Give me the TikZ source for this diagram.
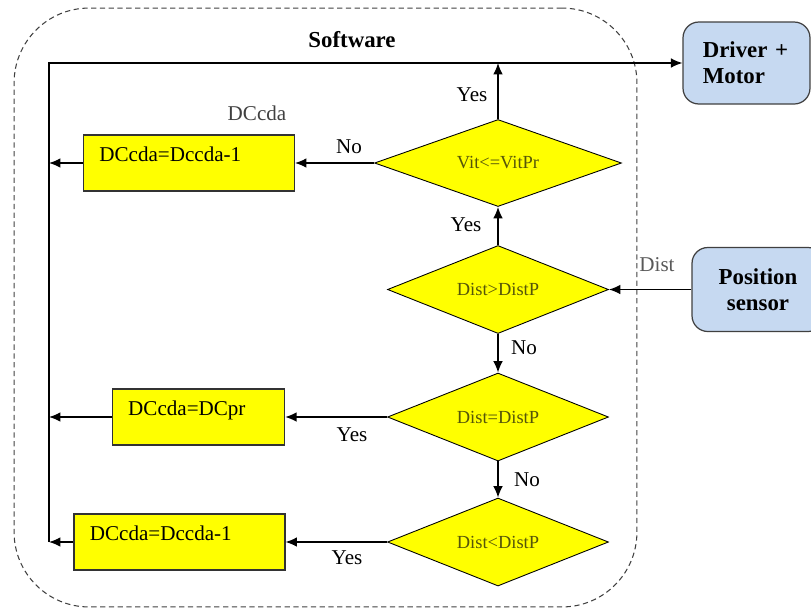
\documentclass[tikz,border=0pt]{standalone}
\usepackage{fontspec}
\setmainfont{Liberation Serif}
\usetikzlibrary{shapes.geometric, arrows.meta, positioning}
\definecolor{condyellow}{RGB}{255,255,0}
\definecolor{hwblue}{RGB}{198,217,241}
\definecolor{condtext}{RGB}{85,85,10}

\begin{document}
\begin{tikzpicture}[x=0.02cm, y=-0.02cm,
    frame/.style={rectangle, draw=black!75, dash pattern=on 3pt off 2pt, line width=0.6pt, rounded corners=1.5cm},
    cond/.style={diamond, aspect=2.5, draw, fill=condyellow, line width=0.5pt, inner sep=0pt, minimum width=4.42cm, minimum height=1.76cm, font=\fontsize{10.5}{12}\selectfont, text=condtext},
    act/.style={rectangle, draw=black!80, fill=condyellow, line width=0.7pt, minimum height=1.12cm, inner xsep=9pt, align=left, text height=8pt, text depth=10pt, font=\fontsize{12}{14}\selectfont},
    hw/.style={rectangle, rounded corners=9pt, draw=black!75, fill=hwblue, line width=0.7pt, font=\fontsize{13}{15}\selectfont\bfseries},
    lbl/.style={font=\fontsize{12}{14}\selectfont},
    arrow/.style={-{Latex[length=6.5pt, width=5.5pt]}, thick}
]
\clip (0,0) rectangle (811,610);

% Software frame
\node[frame, minimum width=12.46cm, minimum height=11.98cm] (sw) at (325.5,307.5) {};
\node[font=\fontsize{13}{15}\selectfont\bfseries] (swlbl) at (352,40) {Software};

% Hardware blocks
\node[hw, minimum width=2.54cm, minimum height=1.64cm, text width=1.75cm, align=left] (drv) at (746.5,63) {Driver +\\Motor};
\node[hw, minimum width=2.64cm, minimum height=1.68cm, align=center] (pos) at (758,289.5) {Position\\sensor};

% Decisions
\node[cond, minimum width=4.94cm, minimum height=1.74cm] (vit) at (498,163) {Vit<=VitPr};
\node[cond] (dgt) at (498,289.5) {Dist>DistP};
\node[cond] (deq) at (498,417) {Dist=DistP};
\node[cond] (dlt) at (498,542) {Dist<DistP};

% Actions
\node[act, text width=102pt] (dec1) at (189,163) {DCcda=Dccda-1};
\node[act, text width=80pt] (setpr) at (198.5,417) {DCcda=DCpr};
\node[act, text width=102pt] (dec2) at (179.5,542) {DCcda=Dccda-1};

% Feedback loop
\coordinate (looptop) at (49,63);
\coordinate (loopbot) at (dec2.west -| looptop);
\draw[arrow] (loopbot) -- (looptop) -- (drv.west);

% Connectors
\draw[arrow] (vit.north) -- (vit.north |- looptop);
\draw[arrow] (dgt.north) -- (vit.south);
\draw[arrow] (dgt.south) -- (deq.north);
\draw[arrow] (deq.south) -- (dlt.north);
\draw[arrow] (vit.west) -- (dec1.east);
\draw[arrow] (deq.west) -- (setpr.east);
\draw[arrow] (dlt.west) -- (dec2.east);
\draw[arrow] (dec1.west) -- (dec1.west -| looptop);
\draw[arrow] (setpr.west) -- (setpr.west -| looptop);
\draw[arrow] (dec2.west) -- (loopbot);
\draw[arrow] (pos.west) -- (dgt.east);

% Labels
\node[lbl, text=black!75] (ccda) at (257,113) {DCcda};
\node[lbl, text=black!65] (dist) at (657,265) {Dist};
\node[lbl] (y1) at (472,95) {Yes};
\node[lbl] (y2) at (466,225) {Yes};
\node[lbl] (n1) at (349,147) {No};
\node[lbl] (n2) at (524,348) {No};
\node[lbl] (n3) at (527,480) {No};
\node[lbl] (y3) at (352,435) {Yes};
\node[lbl] (y4) at (347,558) {Yes};

\end{tikzpicture}
\end{document}
